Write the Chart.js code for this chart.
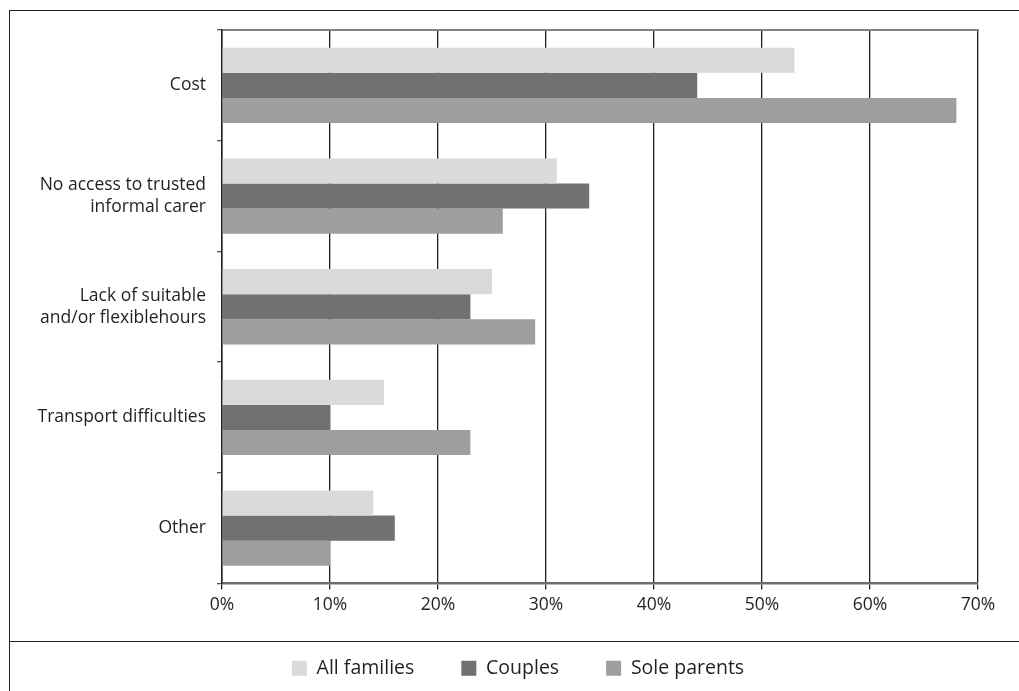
<!DOCTYPE html>
<html>
<head>
<meta charset="utf-8">
<script src="https://cdn.jsdelivr.net/npm/chart.js@4"></script>
<style>
  html, body { margin: 0; padding: 0; background: #fff; overflow: hidden; }
  #moldura {
    position: absolute; left: 0; top: 0; width: 1019px; height: 691px;
  }
  #borda {
    position: absolute; left: 9px; top: 10px; width: 1030px; height: 700px;
    border-left: 1.5px solid #231f20; border-top: 1.5px solid #231f20;
  }
  #separador {
    position: absolute; left: 9px; top: 641px; width: 1010px; height: 0;
    border-top: 1.5px solid #231f20;
  }
  canvas { position: absolute; left: 0; top: 0; }
</style>
</head>
<body>
<div id="moldura">
  <div id="borda"></div>
  <div id="separador"></div>
  <canvas id="grafico" width="1019" height="691"></canvas>
</div>
<script>
// Categorias (eixo vertical)
const categorias = [
  'Cost',
  ['No access to trusted', 'informal carer'],
  ['Lack of suitable', 'and/or flexiblehours'],
  'Transport difficulties',
  'Other'
];

// Valores em %
const todasFamilias = [53, 31, 25, 15, 14];
const casais = [44, 34, 23, 10, 16];
const paisSolteiros = [68, 26, 29, 23, 10];

// Marcas do eixo horizontal
const marcasX = [0, 10, 20, 30, 40, 50, 60, 70];

const fonte = "'Open Sans', 'Noto Sans', sans-serif";
const corTexto = '#231f20';

Chart.defaults.font.family = fonte;
Chart.defaults.color = corTexto;

// Desloca a legenda um pouco para a direita, como no original
const deslocaLegenda = {
  id: 'deslocaLegenda',
  afterLayout(chart) {
    if (chart.legend) {
      chart.legend.left += 24;
      chart.legend.right += 24;
    }
  }
};

const ctx = document.getElementById('grafico').getContext('2d');

new Chart(ctx, {
  type: 'bar',
  data: {
    labels: categorias,
    datasets: [
      { label: 'All families', data: todasFamilias, backgroundColor: '#d9dadb' },
      { label: 'Couples', data: casais, backgroundColor: '#707173' },
      { label: 'Sole parents', data: paisSolteiros, backgroundColor: '#9d9ea0' }
    ]
  },
  plugins: [deslocaLegenda],
  options: {
    indexAxis: 'y',
    responsive: false,
    animation: false,
    datasets: {
      bar: { categoryPercentage: 0.68, barPercentage: 1.0, borderWidth: 0 }
    },
    layout: {
      padding: { left: 10, right: 41, top: 30, bottom: 3 }
    },
    plugins: {
      tooltip: { enabled: false },
      legend: {
        position: 'bottom',
        labels: {
          boxWidth: 15,
          boxHeight: 15,
          padding: 47,
          color: corTexto,
          font: { size: 19.5, family: fonte }
        }
      }
    },
    scales: {
      x: {
        type: 'linear',
        min: 0,
        max: 70,
        afterBuildTicks: (eixo) => { eixo.ticks = marcasX.map(v => ({ value: v })); },
        afterFit: (eixo) => { eixo.height = 28; },
        ticks: {
          callback: (v) => v + '%',
          font: { size: 17.5 },
          color: corTexto,
          padding: 5
        },
        grid: {
          color: '#231f20',
          lineWidth: 1.3,
          tickLength: 6,
          drawTicks: true
        },
        border: { color: '#6d6e70', width: 2.5 }
      },
      topo: {
        type: 'linear',
        axis: 'x',
        position: 'top',
        min: 0,
        max: 70,
        ticks: { display: false },
        grid: { display: false, drawTicks: false },
        border: { color: '#808285', width: 2 }
      },
      y: {
        afterFit: (eixo) => { eixo.width = 212; },
        ticks: {
          font: { size: 17.5, lineHeight: 1.26 },
          color: corTexto,
          padding: 11
        },
        grid: {
          drawOnChartArea: false,
          drawTicks: true,
          tickLength: 5,
          color: '#58595b',
          lineWidth: 1.3
        },
        border: { color: '#231f20', width: 1.5 }
      }
    }
  }
});
</script>
</body>
</html>
